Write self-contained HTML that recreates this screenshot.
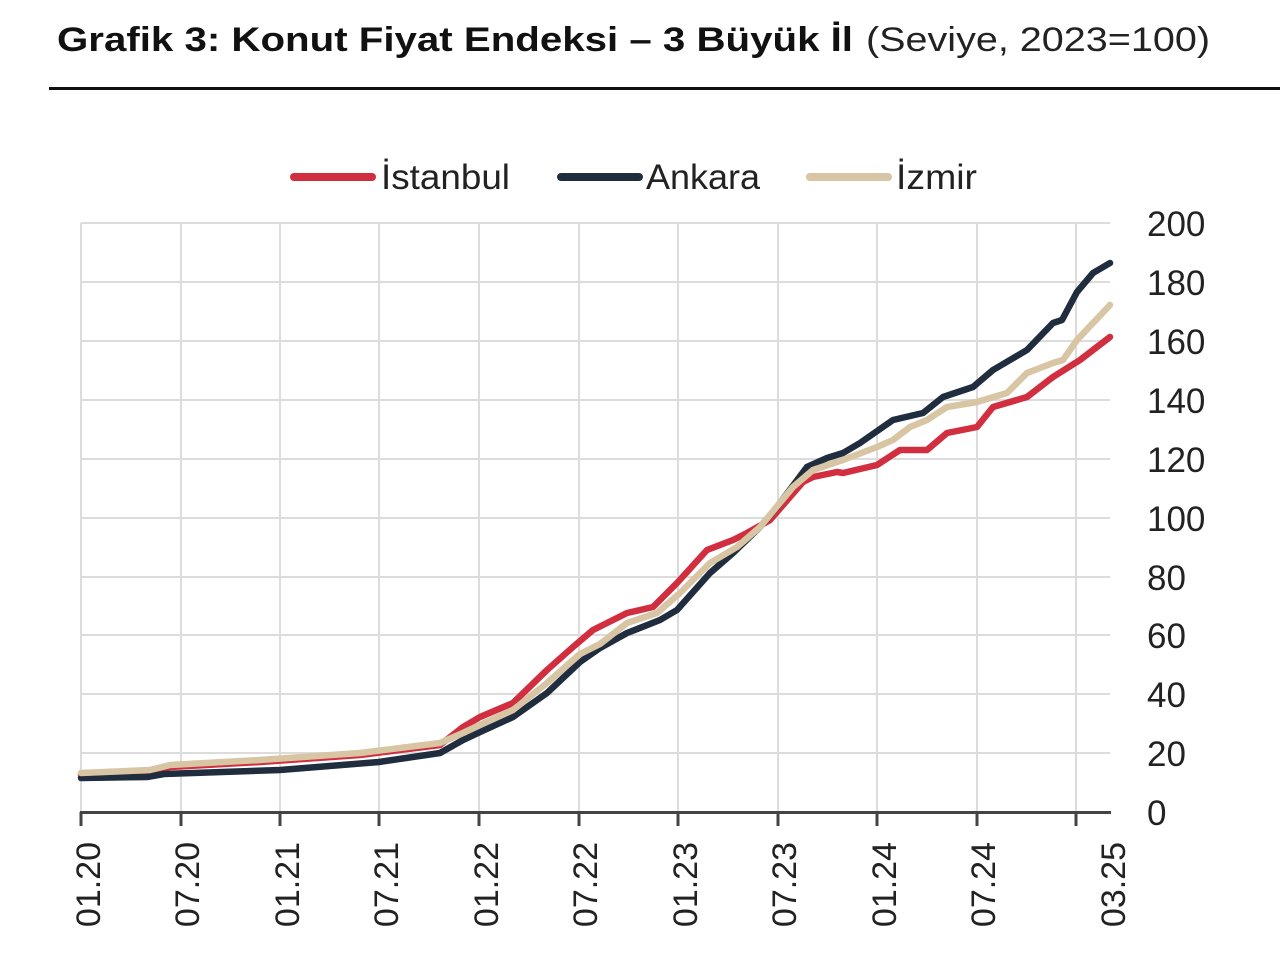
<!DOCTYPE html>
<html>
<head>
<meta charset="utf-8">
<style>
  html, body { margin:0; padding:0; background:#ffffff; }
  svg { display:block; }
  text { font-family: "Liberation Sans", "DejaVu Sans", sans-serif; }
</style>
</head>
<body>
<svg width="1280" height="972" viewBox="0 0 1280 972" xmlns="http://www.w3.org/2000/svg">
  <rect x="0" y="0" width="1280" height="972" fill="#ffffff"/>

  <!-- Title -->
  <text x="57" y="51" font-size="34" font-weight="bold" fill="#111111" textLength="796" lengthAdjust="spacingAndGlyphs">Grafik 3: Konut Fiyat Endeksi – 3 Büyük İl</text>
  <text x="866" y="51" font-size="34" fill="#222222" textLength="344" lengthAdjust="spacingAndGlyphs">(Seviye, 2023=100)</text>
  <rect x="49" y="87" width="1231" height="3" fill="#111111"/>

  <!-- Legend -->
  <line x1="294" y1="177" x2="372" y2="177" stroke="#d12f3f" stroke-width="8" stroke-linecap="round"/>
  <text x="381" y="189" font-size="35" fill="#222222" textLength="129" lengthAdjust="spacingAndGlyphs">İstanbul</text>
  <line x1="561" y1="177" x2="639" y2="177" stroke="#1f2d3e" stroke-width="8" stroke-linecap="round"/>
  <text x="646" y="189" font-size="35" fill="#222222" textLength="114" lengthAdjust="spacingAndGlyphs">Ankara</text>
  <line x1="810" y1="177" x2="888" y2="177" stroke="#d8c5a3" stroke-width="8" stroke-linecap="round"/>
  <text x="896" y="189" font-size="35" fill="#222222" textLength="81" lengthAdjust="spacingAndGlyphs">İzmir</text>

  <!-- Grid horizontal -->
  <g stroke="#dcdcdc" stroke-width="2">
    <line x1="81" y1="223" x2="1110" y2="223"/>
    <line x1="81" y1="282" x2="1110" y2="282"/>
    <line x1="81" y1="341" x2="1110" y2="341"/>
    <line x1="81" y1="400" x2="1110" y2="400"/>
    <line x1="81" y1="459" x2="1110" y2="459"/>
    <line x1="81" y1="518" x2="1110" y2="518"/>
    <line x1="81" y1="577" x2="1110" y2="577"/>
    <line x1="81" y1="635" x2="1110" y2="635"/>
    <line x1="81" y1="694" x2="1110" y2="694"/>
    <line x1="81" y1="753" x2="1110" y2="753"/>
  </g>
  <!-- Grid vertical -->
  <g stroke="#dcdcdc" stroke-width="2">
    <line x1="81" y1="223" x2="81" y2="812"/>
    <line x1="181" y1="223" x2="181" y2="812"/>
    <line x1="280" y1="223" x2="280" y2="812"/>
    <line x1="379" y1="223" x2="379" y2="812"/>
    <line x1="479" y1="223" x2="479" y2="812"/>
    <line x1="579" y1="223" x2="579" y2="812"/>
    <line x1="678" y1="223" x2="678" y2="812"/>
    <line x1="778" y1="223" x2="778" y2="812"/>
    <line x1="877" y1="223" x2="877" y2="812"/>
    <line x1="977" y1="223" x2="977" y2="812"/>
    <line x1="1076" y1="223" x2="1076" y2="812"/>
  </g>

  <!-- Series -->
  <g fill="none" stroke-width="6.5" stroke-linejoin="round" stroke-linecap="round">
    <polyline stroke="#d12f3f" points="81,775 150,772 170,767 260,762 360,755 440,745 463,727 480,717 513,703 547,670 573,647 593,630 627,613 653,607 677,583 707,550 733,540 747,533 770,520 803,482 813,477 837,472 843,473 877,465 900,450 927,450 947,433 977,427 993,407 1027,397 1053,377 1080,360 1110,337"/>
    <polyline stroke="#1f2d3e" points="81,778 147,777 164,774 280,770 379,762 440,753 463,740 480,732 513,717 547,693 580,662 600,648 627,633 660,620 677,610 710,573 733,553 760,527 777,507 807,467 827,458 843,453 860,443 893,420 923,413 943,397 973,387 993,370 1027,350 1053,323 1062,320 1077,292 1093,273 1110,263"/>
    <polyline stroke="#d8c5a3" points="81,773 150,770 170,765 260,760 360,753 440,743 463,733 480,725 513,710 547,683 580,654 600,644 627,623 657,613 680,593 710,563 737,547 760,527 793,487 813,470 843,460 877,447 893,440 910,427 927,420 947,407 977,402 1007,393 1027,373 1053,363 1063,360 1077,340 1110,305"/>
  </g>

  <!-- X axis -->
  <rect x="80" y="811" width="1031" height="3" fill="#444444"/>
  <g stroke="#444444" stroke-width="3">
    <line x1="81" y1="812" x2="81" y2="826"/>
    <line x1="181" y1="812" x2="181" y2="826"/>
    <line x1="280" y1="812" x2="280" y2="826"/>
    <line x1="379" y1="812" x2="379" y2="826"/>
    <line x1="479" y1="812" x2="479" y2="826"/>
    <line x1="579" y1="812" x2="579" y2="826"/>
    <line x1="678" y1="812" x2="678" y2="826"/>
    <line x1="778" y1="812" x2="778" y2="826"/>
    <line x1="877" y1="812" x2="877" y2="826"/>
    <line x1="977" y1="812" x2="977" y2="826"/>
    <line x1="1076" y1="812" x2="1076" y2="826"/>
  </g>

  <!-- Y labels -->
  <g font-size="35" fill="#222222">
    <text x="1147" y="236">200</text>
    <text x="1147" y="295">180</text>
    <text x="1147" y="354">160</text>
    <text x="1147" y="413">140</text>
    <text x="1147" y="472">120</text>
    <text x="1147" y="531">100</text>
    <text x="1147" y="590">80</text>
    <text x="1147" y="648">60</text>
    <text x="1147" y="707">40</text>
    <text x="1147" y="766">20</text>
    <text x="1147" y="825">0</text>
  </g>

  <!-- X labels (rotated) -->
  <g font-size="34" fill="#222222" text-anchor="end">
    <text transform="translate(100,842) rotate(-90)">01.20</text>
    <text transform="translate(199,842) rotate(-90)">07.20</text>
    <text transform="translate(299,842) rotate(-90)">01.21</text>
    <text transform="translate(398,842) rotate(-90)">07.21</text>
    <text transform="translate(498,842) rotate(-90)">01.22</text>
    <text transform="translate(597,842) rotate(-90)">07.22</text>
    <text transform="translate(697,842) rotate(-90)">01.23</text>
    <text transform="translate(796,842) rotate(-90)">07.23</text>
    <text transform="translate(896,842) rotate(-90)">01.24</text>
    <text transform="translate(995,842) rotate(-90)">07.24</text>
    <text transform="translate(1125,842) rotate(-90)">03.25</text>
  </g>
</svg>
</body>
</html>
